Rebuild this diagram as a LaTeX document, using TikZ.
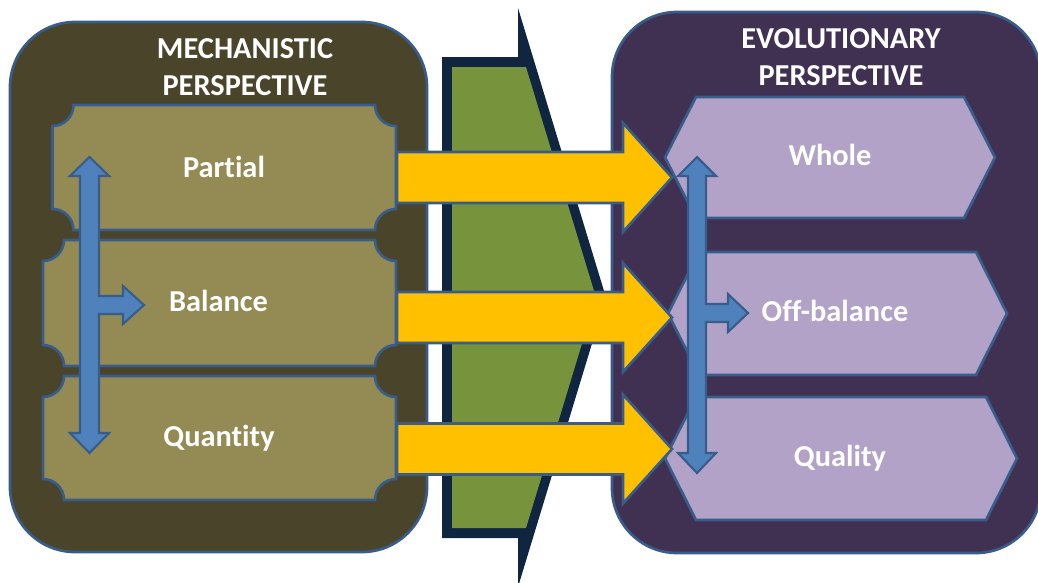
\documentclass[tikz,border=0pt]{standalone}
\usepackage{fontspec}
\setmainfont[Ligatures=NoCommon]{Carlito}
\definecolor{mechbg}{HTML}{4A442A}
\definecolor{mechbox}{HTML}{948A54}
\definecolor{outline}{HTML}{385D8A}
\definecolor{evobg}{HTML}{403152}
\definecolor{evobox}{HTML}{B3A2C7}
\definecolor{flow}{HTML}{FFC000}
\definecolor{gate}{HTML}{77933C}
\definecolor{navy}{HTML}{10253F}
\definecolor{bluearr}{HTML}{4F81BD}
\newcommand{\plaquepath}[4]{(#1+21,#2) -- (#3-21,#2) arc[start angle=180,end angle=90,radius=21] -- (#3,#4-21) arc[start angle=270,end angle=180,radius=21] -- (#1+21,#4) arc[start angle=0,end angle=-90,radius=21] -- (#1,#2+21) arc[start angle=90,end angle=0,radius=21] -- cycle}
\newcommand{\hexpath}[4]{(#1,{(#2+#4)/2}) -- (#1+31,#2) -- (#3-31,#2) -- (#3,{(#2+#4)/2}) -- (#3-31,#4) -- (#1+31,#4) -- cycle}
\newcommand{\flowpath}[1]{(397,#1-25.5) -- (623,#1-25.5) -- (623,#1-54.5) -- (672,#1) -- (623,#1+54.5) -- (623,#1+25.5) -- (397,#1+25.5) -- cycle}
\tikzset{
  panel/.style={draw=outline, line width=2pt, rounded corners=48.75pt},
  plaque/.style={fill=mechbox, draw=outline, line width=2pt},
  hexbox/.style={fill=evobox, draw=outline, line width=2pt, line join=miter},
  flowarrow/.style={fill=flow, draw=outline, line width=2pt, line join=miter},
  bluearrow/.style={fill=bluearr, draw=outline, line width=1.6pt, line join=miter},
  lbl/.style={text=white, inner sep=0pt, anchor=base, font=\bfseries\fontsize{22.8}{27.75}\selectfont},
  ttl/.style={text=white, inner sep=0pt, anchor=north, align=center, font=\bfseries\fontsize{22.8}{27.75}\selectfont}
}
\begin{document}
\begin{tikzpicture}[x=0.75pt,y=-0.75pt]
\useasboundingbox (0,0) rectangle (1038,582);
\clip (0,0) rectangle (1038,582);
% panels
\draw[panel, fill=mechbg] (10,22) rectangle (427,552);
\draw[panel, fill=evobg] (612,12) rectangle (1041,553);
% middle gate
\fill[navy] (442,57) -- (518,57) -- (518,8) -- (606,297.5) -- (518,587) -- (518,538) -- (442,538) -- cycle;
\fill[gate] (452,67) -- (526,67) -- (596,297.5) -- (526,528) -- (452,528) -- cycle;
% left plaques
\draw[plaque] \plaquepath{52.5}{105}{396}{230};
\draw[plaque] \plaquepath{43}{240}{396}{366};
\draw[plaque] \plaquepath{43}{376}{396}{500};
% right hexagons
\draw[hexbox] \hexpath{665}{97}{995}{218};
\draw[hexbox] \hexpath{668}{252}{1007}{375};
\draw[hexbox] \hexpath{665}{397}{1017}{520};
% yellow arrows
\draw[flowarrow] \flowpath{177.5};
\draw[flowarrow] \flowpath{317.5};
\draw[flowarrow] \flowpath{449};
% blue arrows
\draw[bluearrow] (89.5,157) -- (109,176) -- (99,176) -- (99,296) -- (123,296) -- (123,286) -- (144,305) -- (123,324) -- (123,314) -- (99,314) -- (99,433) -- (109,433) -- (89.5,453) -- (70,433) -- (80,433) -- (80,176) -- (70,176) -- cycle;
\draw[bluearrow] (697,157) -- (716,176) -- (706,176) -- (706,304) -- (728,304) -- (728,294) -- (748,313) -- (728,332) -- (728,322) -- (706,322) -- (706,453) -- (716,453) -- (697,473) -- (678,453) -- (688,453) -- (688,176) -- (678,176) -- cycle;
% texts
\node[ttl] (mechtitle) at (245,38) {MECHANISTIC\\PERSPECTIVE};
\node[ttl] (evotitle) at (841,28) {EVOLUTIONARY\\PERSPECTIVE};
\node[lbl] (partial) at (224,177) {Partial};
\node[lbl] (balance) at (218.5,311.5) {Balance};
\node[lbl] (quantity) at (219,446) {Quantity};
\node[lbl] (whole) at (830,165.5) {Whole};
\node[lbl] (offbal) at (835,321.5) {Off-balance};
\node[lbl] (quality) at (840,466.5) {Quality};
\end{tikzpicture}
\end{document}
